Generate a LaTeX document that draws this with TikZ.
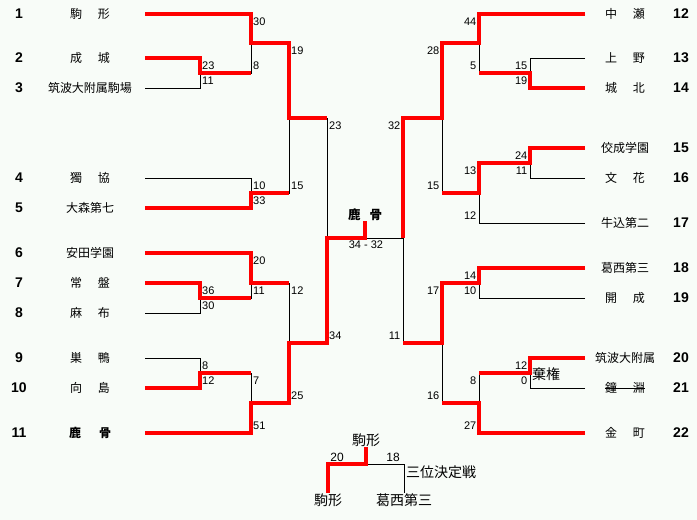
\documentclass[tikz,border=0pt]{standalone}
\usepackage{fontspec}
\setmainfont{Liberation Sans}
\newfontfamily\jp{Noto Sans CJK JP}
\usetikzlibrary{calc,positioning}
\definecolor{bg}{RGB}{248,252,248}
\tikzset{
  win/.style={draw=red,line width=3.2pt},
  lose/.style={draw=black,line width=1pt},
  team/.style={font=\jp\fontsize{12}{14}\selectfont,inner sep=0pt},
  seed/.style={font=\bfseries\fontsize{14}{16}\selectfont,inner sep=0pt},
  score/.style={font=\fontsize{11}{12}\selectfont,inner sep=0pt},
  lsc/.style={score,anchor=west,xshift=2pt},
  rsc/.style={score,anchor=east,xshift=-2.5pt},
  big/.style={font=\jp\fontsize{14}{16}\selectfont,inner sep=0pt},
}
\newcommand{\two}[3][40pt]{\makebox[#1]{#2\hfill{}#3}}

\begin{document}
\begin{tikzpicture}[x=1pt,y=-1pt]
\fill[bg] (0,0) rectangle (697,520);
\useasboundingbox (0,0) rectangle (697,520);

% seeds and line ends
\foreach \i/\y in {1/14,2/58,3/88,4/178,5/208,6/253,7/283,8/313,9/358,10/388,11/433}{
  \node[seed] (n\i) at (19,\y) {\i};
  \coordinate (e\i) at (145,\y);
}
\foreach \i/\y in {12/14,13/58,14/88,15/148,16/178,17/223,18/268,19/298,20/358,21/388,22/433}{
  \node[seed] (n\i) at (681,\y) {\i};
  \coordinate (e\i) at (585,\y);
}

% teams
\node[team] (t1) at (90,14) {\two{駒}{形}};
\node[team] (t2) at (90,58) {\two{成}{城}};
\node[team] (t3) at (90,88) {筑波大附属駒場};
\node[team] (t4) at (90,178) {\two{獨}{協}};
\node[team] (t5) at (90,208) {大森第七};
\node[team] (t6) at (90,253) {安田学園};
\node[team] (t7) at (90,283) {\two{常}{盤}};
\node[team] (t8) at (90,313) {\two{麻}{布}};
\node[team] (t9) at (90,358) {\two{巣}{鴨}};
\node[team] (t10) at (90,388) {\two{向}{島}};
\node[team,font=\jp\bfseries\fontsize{12}{14}\selectfont] (t11) at (90,433) {\two[42pt]{鹿}{骨}};
\node[team] (t12) at (625,14) {\two{中}{瀬}};
\node[team] (t13) at (625,58) {\two{上}{野}};
\node[team] (t14) at (625,88) {\two{城}{北}};
\node[team] (t15) at (625,148) {佼成学園};
\node[team] (t16) at (625,178) {\two{文}{花}};
\node[team] (t17) at (625,223) {牛込第二};
\node[team] (t18) at (625,268) {葛西第三};
\node[team] (t19) at (625,298) {\two{開}{成}};
\node[team] (t20) at (625,358) {筑波大附属};
\node[team] (t21) at (625,388) {\two{鐘}{淵}};
\node[team] (t22) at (625,433) {\two{金}{町}};
\draw[line width=0.8pt] (t21.west) -- (t21.east);

% match joints
\coordinate (mA) at (200,73);
\coordinate (mB) at (251,43);
\coordinate (mC) at (251,193);
\coordinate (mD) at (289,118);
\coordinate (mE) at (200,298);
\coordinate (mF) at (251,283);
\coordinate (mG) at (200,373);
\coordinate (mH) at (251,403);
\coordinate (mI) at (289,343);
\coordinate (mJ) at (327,238);
\coordinate (mK) at (530,73);
\coordinate (mL) at (479,43);
\coordinate (mM) at (530,163);
\coordinate (mN) at (479,193);
\coordinate (mO) at (442,118);
\coordinate (mP) at (479,283);
\coordinate (mQ) at (530,373);
\coordinate (mR) at (479,403);
\coordinate (mS) at (442,343);
\coordinate (mT) at (403,238);
\coordinate (fin) at (365,238);

\node[font=\jp\bfseries\fontsize{12.5}{14}\selectfont,inner sep=0pt] (ch) at (365,215) {\two[34pt]{鹿}{骨}};
\node[score] (fs) at (366,245) {34 - 32};

% bracket lines
\draw[lose] (e2) -| (mA) (e3) -| (mA) (e1) -| (mB) (mA) -| (mB)
  (e4) -| (mC) (e5) -| (mC) (mB) -| (mD) (mC) -| (mD)
  (e7) -| (mE) (e8) -| (mE) (e6) -| (mF) (mE) -| (mF)
  (e9) -| (mG) (e10) -| (mG) (mG) -| (mH) (e11) -| (mH)
  (mF) -| (mI) (mH) -| (mI) (mD) -| (mJ) (mI) -| (mJ);
\draw[lose] (e13) -| (mK) (e14) -| (mK) (e12) -| (mL) (mK) -| (mL)
  (e15) -| (mM) (e16) -| (mM) (mM) -| (mN) (e17) -| (mN)
  (mL) -| (mO) (mN) -| (mO)
  (e18) -| (mP) (e19) -| (mP) (e20) -| (mQ) (e21) -| (mQ)
  (mQ) -| (mR) (e22) -| (mR) (mP) -| (mS) (mR) -| (mS)
  (mO) -| (mT) (mS) -| (mT) (mT) -- (fin);

\draw[win] (e1) -| (mB) -| (mD) -- (mD -| mJ);
\draw[win] (e2) -| (mA) -- (mA -| mB);
\draw[win] (e5) -| (mC) -- (mC -| mD);
\draw[win] (e6) -| (mF) -- (mF -| mI);
\draw[win] (e7) -| (mE) -- (mE -| mF);
\draw[win] (e10) -| (mG) -- (mG -| mH);
\draw[win] (e11) -| (mH) -| (mI) -| (mJ) -- (fin) -- (ch.south);
\draw[win] (e12) -| (mL) -| (mO) -| (mT);
\draw[win] (e14) -| (mK) -- (mK -| mL);
\draw[win] (e15) -| (mM) -| (mN) -- (mN -| mO);
\draw[win] (e18) -| (mP) -| (mS) -- (mS -| mT);
\draw[win] (e20) -| (mQ) -- (mQ -| mR);
\draw[win] (e22) -| (mR) -- (mR -| mS);

% scores, left
\node[lsc,yshift=-8pt] (sA1) at (mA |- e2) {23};
\node[lsc,yshift=7pt] (sA2) at (mA |- e3) {11};
\node[lsc,yshift=-8pt] (sB1) at (mB |- e1) {30};
\node[lsc,yshift=7pt] (sB2) at (mB |- mA) {8};
\node[lsc,yshift=-8pt] (sC1) at (mC |- e4) {10};
\node[lsc,yshift=7pt] (sC2) at (mC |- e5) {33};
\node[lsc,yshift=-8pt] (sD1) at (mD |- mB) {19};
\node[lsc,yshift=7pt] (sD2) at (mD |- mC) {15};
\node[lsc,yshift=-8pt] (sE1) at (mE |- e7) {36};
\node[lsc,yshift=7pt] (sE2) at (mE |- e8) {30};
\node[lsc,yshift=-8pt] (sF1) at (mF |- e6) {20};
\node[lsc,yshift=7pt] (sF2) at (mF |- mE) {11};
\node[lsc,yshift=-8pt] (sG1) at (mG |- e9) {8};
\node[lsc,yshift=7pt] (sG2) at (mG |- e10) {12};
\node[lsc,yshift=-8pt] (sH1) at (mH |- mG) {7};
\node[lsc,yshift=7pt] (sH2) at (mH |- e11) {51};
\node[lsc,yshift=-8pt] (sI1) at (mI |- mF) {12};
\node[lsc,yshift=7pt] (sI2) at (mI |- mH) {25};
\node[lsc,yshift=-8pt] (sJ1) at (mJ |- mD) {23};
\node[lsc,yshift=7pt] (sJ2) at (mJ |- mI) {34};

% scores, right
\node[rsc,yshift=-8pt] (sK1) at (mK |- e13) {15};
\node[rsc,yshift=7pt] (sK2) at (mK |- e14) {19};
\node[rsc,yshift=-8pt] (sL1) at (mL |- e12) {44};
\node[rsc,yshift=7pt] (sL2) at (mL |- mK) {5};
\node[rsc,yshift=-8pt] (sM1) at (mM |- e15) {24};
\node[rsc,yshift=7pt] (sM2) at (mM |- e16) {11};
\node[rsc,yshift=-8pt] (sN1) at (mN |- mM) {13};
\node[rsc,yshift=7pt] (sN2) at (mN |- e17) {12};
\node[rsc,yshift=-8pt] (sO1) at (mO |- mL) {28};
\node[rsc,yshift=7pt] (sO2) at (mO |- mN) {15};
\node[rsc,yshift=-8pt] (sP1) at (mP |- e18) {14};
\node[rsc,yshift=7pt] (sP2) at (mP |- e19) {10};
\node[rsc,yshift=-8pt] (sQ1) at (mQ |- e20) {12};
\node[rsc,yshift=7pt] (sQ2) at (mQ |- e21) {0};
\node[rsc,yshift=-8pt] (sR1) at (mR |- mQ) {8};
\node[rsc,yshift=7pt] (sR2) at (mR |- e22) {27};
\node[rsc,yshift=-8pt] (sS1) at (mS |- mP) {17};
\node[rsc,yshift=7pt] (sS2) at (mS |- mR) {16};
\node[rsc,yshift=-8pt] (sT1) at (mT |- mO) {32};
\node[rsc,yshift=7pt] (sT2) at (mT |- mS) {11};
\node[big,anchor=west] (kk) at (532,374) {棄権};

% third place
\node[big] (q0) at (366,440) {駒形};
\node[big] (qa) at (328,500) {駒形};
\node[big] (qb) at (404,500) {葛西第三};
\coordinate (qj) at (366,464);
\draw[lose] (qj) -| (qb.north);
\draw[win] (qa.north) |- (qj) -- (q0.south);
\node[score,font=\fontsize{12}{13}\selectfont] (qs1) at (337,457) {20};
\node[score,font=\fontsize{12}{13}\selectfont] (qs2) at (393,457) {18};
\node[big,anchor=west] (qt) at (406,472) {三位決定戦};
\end{tikzpicture}
\end{document}
